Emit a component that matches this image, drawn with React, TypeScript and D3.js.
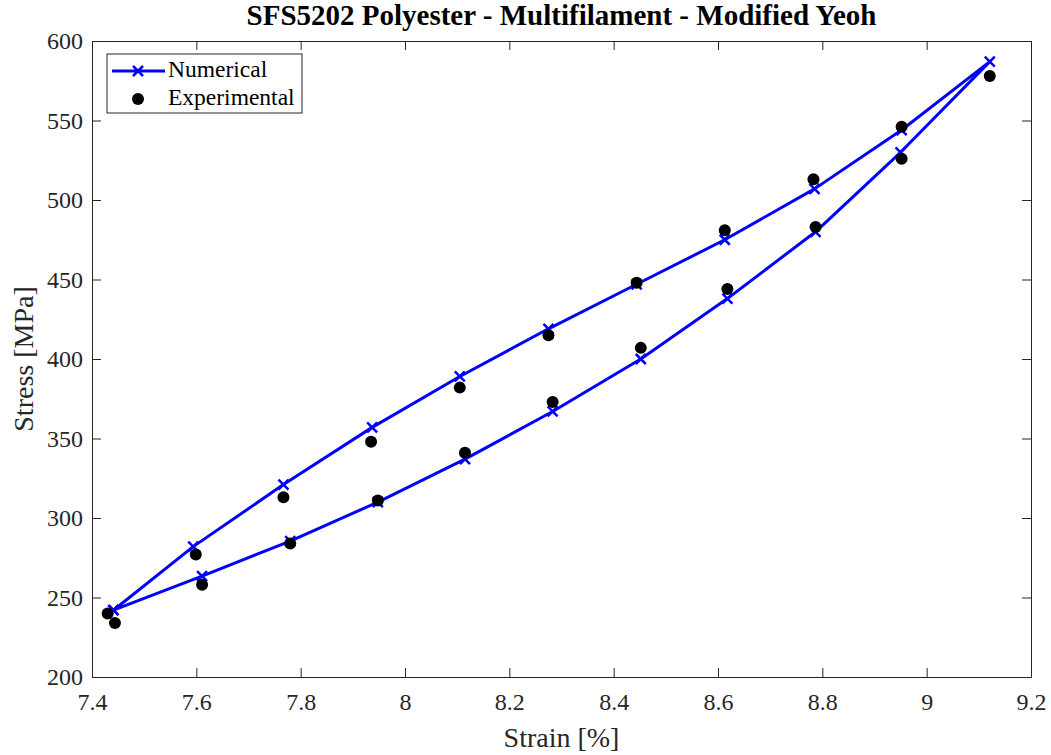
import React, { useEffect, useRef } from 'react';
import * as d3 from 'd3';

// numerical model, loop: up the top branch, back down the lower one
const numStrain = [7.441, 7.594, 7.767, 7.937, 8.105, 8.275, 8.444, 8.613, 8.785, 8.952, 9.121,
    8.950, 8.787, 8.618, 8.452, 8.283, 8.115, 7.948, 7.780, 7.611, 7.441];
const numStress = [242, 282, 321, 357, 389, 419, 447, 475, 507, 544, 587,
    530, 480, 438, 400, 367, 337, 310, 285.5, 263.5, 242];

// experimental points
const expStrain = [7.430, 7.599, 7.767, 7.935, 8.105, 8.275, 8.444, 8.613, 8.783, 8.952, 9.121,
    8.952, 8.787, 8.618, 8.452, 8.283, 8.115, 7.948, 7.780, 7.611, 7.444];
const expStress = [240, 277, 313, 348, 382, 415, 448, 481, 513, 546, 578,
    526, 483, 444, 407, 373, 341, 311, 284, 258, 234];

const xTicks = [7.4, 7.6, 7.8, 8, 8.2, 8.4, 8.6, 8.8, 9, 9.2];
const yTicks = [200, 250, 300, 350, 400, 450, 500, 550, 600];

const chartTitle = 'SFS5202 Polyester - Multifilament - Modified Yeoh';
const xTitle = 'Strain [%]';
const yTitle = 'Stress [MPa]';
const seriesNames = ['Numerical', 'Experimental'];

const App = () => {
    const chartRef = useRef<SVGSVGElement>(null);

    useEffect(() => {
        drawChart();
    }, []);

    const drawChart = () => {
        const svg = d3.select(chartRef.current);
        svg.selectAll('*').remove();

        const margin = { top: 41, right: 20, bottom: 78, left: 92 };
        const width = 1051;
        const height = 755;
        const font = 'Liberation Serif, Times New Roman, serif';
        const axisColor = '#262626';

        const x = d3.scaleLinear()
            .domain([7.4, 9.2])
            .range([margin.left, width - margin.right]);

        const y = d3.scaleLinear()
            .domain([200, 600])
            .range([height - margin.bottom, margin.top]);

        svg.append('rect')
            .attr('width', width).attr('height', height)
            .attr('fill', '#fff');

        // axes box with inward ticks on all four sides
        const axes = [
            { axis: d3.axisBottom(x).tickValues(xTicks), t: `translate(0,${y(200)})`, labels: true, pad: 16 },
            { axis: d3.axisTop(x).tickValues(xTicks), t: `translate(0,${y(600)})`, labels: false, pad: 0 },
            { axis: d3.axisLeft(y).tickValues(yTicks), t: `translate(${x(7.4)},0)`, labels: true, pad: 9 },
            { axis: d3.axisRight(y).tickValues(yTicks), t: `translate(${x(9.2)},0)`, labels: false, pad: 0 },
        ];
        axes.forEach(a => {
            const g = svg.append('g')
                .attr('transform', a.t)
                .call(a.axis.tickSizeInner(-9).tickSizeOuter(0).tickPadding(a.pad).tickFormat(d => a.labels ? String(d) : ''));
            g.attr('font-family', font).attr('font-size', 24);
            g.select('.domain').attr('stroke', axisColor).attr('stroke-width', 1);
            g.selectAll('.tick line').attr('stroke', axisColor);
            g.selectAll('.tick text')
                .attr('font-family', font)
                .attr('font-size', 24)
                .attr('fill', axisColor);
        });

        const numData = numStrain.map((s, i) => [s, numStress[i]] as [number, number]);
        const expData = expStrain.map((s, i) => [s, expStress[i]] as [number, number]);

        const line = d3.line<[number, number]>()
            .x(d => x(d[0]))
            .y(d => y(d[1]));

        svg.append('path')
            .datum(numData)
            .attr('d', line)
            .attr('fill', 'none')
            .attr('stroke', '#0000ff')
            .attr('stroke-width', 3)
            .attr('stroke-linejoin', 'round');

        const cross = (g: any, cx: number, cy: number, s: number) => {
            g.append('path')
                .attr('d', `M${cx - s},${cy - s}L${cx + s},${cy + s}M${cx - s},${cy + s}L${cx + s},${cy - s}`)
                .attr('stroke', '#0000ff')
                .attr('stroke-width', 2.5)
                .attr('fill', 'none');
        };

        const marks = svg.append('g');
        numData.forEach(d => cross(marks, x(d[0]), y(d[1]), 5));

        svg.append('g')
            .selectAll('circle')
            .data(expData)
            .enter().append('circle')
            .attr('cx', d => x(d[0]))
            .attr('cy', d => y(d[1]))
            .attr('r', 6)
            .attr('fill', '#000');

        // legend
        const lg = svg.append('g');
        lg.append('rect')
            .attr('x', 107).attr('y', 54)
            .attr('width', 195).attr('height', 59)
            .attr('fill', '#fff')
            .attr('stroke', axisColor)
            .attr('stroke-width', 1);
        lg.append('line')
            .attr('x1', 112).attr('x2', 165)
            .attr('y1', 71).attr('y2', 71)
            .attr('stroke', '#0000ff').attr('stroke-width', 3);
        cross(lg, 138, 71, 5);
        lg.append('circle')
            .attr('cx', 138).attr('cy', 99).attr('r', 6).attr('fill', '#000');
        seriesNames.forEach((n, i) => {
            lg.append('text')
                .attr('x', 168).attr('y', 77 + i * 28)
                .attr('font-family', font).attr('font-size', 23.5)
                .attr('fill', '#000')
                .text(n);
        });

        svg.append('text')
            .attr('x', (x(7.4) + x(9.2)) / 2).attr('y', 25)
            .attr('text-anchor', 'middle')
            .attr('font-family', font).attr('font-size', 29).attr('font-weight', 'bold')
            .attr('fill', '#000')
            .text(chartTitle);

        svg.append('text')
            .attr('x', (x(7.4) + x(9.2)) / 2).attr('y', 747)
            .attr('text-anchor', 'middle')
            .attr('font-family', font).attr('font-size', 28)
            .attr('fill', axisColor)
            .text(xTitle);

        svg.append('text')
            .attr('transform', `translate(33,${(y(200) + y(600)) / 2}) rotate(-90)`)
            .attr('text-anchor', 'middle')
            .attr('font-family', font).attr('font-size', 28)
            .attr('fill', axisColor)
            .text(yTitle);
    };

    return (
        <div style={{ position: 'absolute', left: 0, top: 0 }}>
            <svg ref={chartRef} width={1051} height={755} style={{ display: 'block' }} />
        </div>
    );
};

export default App;
